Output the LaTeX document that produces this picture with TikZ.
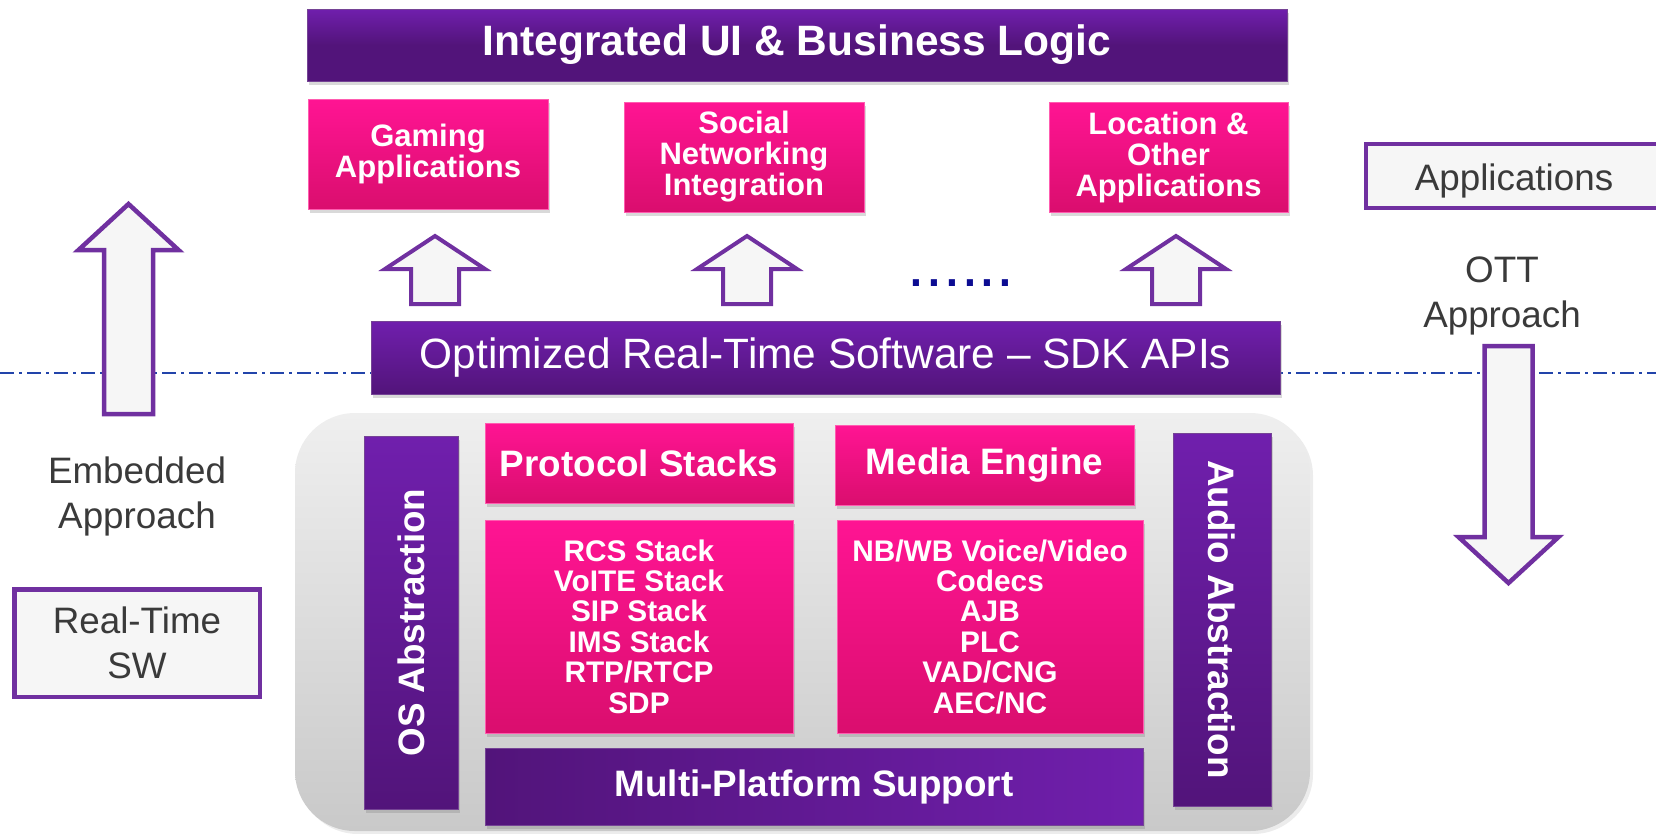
\documentclass[tikz,border=0pt]{standalone}
\usepackage{fontspec}
\setmainfont{Liberation Sans}
\usetikzlibrary{shadows}

\definecolor{barlight}{HTML}{701FAD}
\definecolor{bardark}{HTML}{52147A}
\definecolor{pinktop}{HTML}{FF1493}
\definecolor{pinkbot}{HTML}{DA0E6E}
\definecolor{pinkedge}{HTML}{FF5CB0}
\definecolor{arrowline}{HTML}{7030A0}
\definecolor{arrowfill}{HTML}{F6F6F6}
\definecolor{sidetext}{HTML}{3A3A3A}
\definecolor{sepblue}{HTML}{2244AA}
\definecolor{dotnavy}{HTML}{0C0C92}
\definecolor{panetop}{HTML}{EFEFEF}
\definecolor{panebot}{HTML}{C9C9C9}

\tikzset{
  boxshadow/.style={drop shadow={opacity=0.3, shadow xshift=2pt, shadow yshift=-4pt}},
  purplebar/.style={top color=barlight, bottom color=bardark, draw=bardark!80!white, line width=0.8pt,
    text=white, inner sep=0pt, boxshadow},
  pinkbox/.style={top color=pinktop, bottom color=pinkbot, draw=pinkedge, line width=1pt,
    text=white, align=center, inner sep=0pt, boxshadow},
  blockarrow/.style={draw=arrowline, fill=arrowfill, line width=4pt},
  sidebox/.style={draw=arrowline, fill=arrowfill, line width=4.5pt, inner sep=0pt},
  sidelabel/.style={text=sidetext, align=center, font=\fontsize{36.8}{45}\selectfont},
}

\begin{document}
\begin{tikzpicture}[x=1pt,y=-1pt]
\useasboundingbox (0,0) rectangle (1656,833);
\clip (0,0) rectangle (1656,833);

%Straight Lines: dash-dot separator
\draw [sepblue, line width=2pt, dash pattern=on 14pt off 5pt on 3pt off 5pt] (0,373) -- (1656,373);

%Shape: Rounded Rect (grey panel)
\draw [top color=panetop, bottom color=panebot, draw=none, rounded corners=60pt,
  drop shadow={opacity=0.15, shadow xshift=3pt, shadow yshift=-3pt}] (295,413) rectangle (1310,831);

% Top layer
\node (uilogic) [purplebar, middle color=bardark, minimum width=980pt, minimum height=72pt,
  font=\fontsize{42.5}{44}\selectfont\bfseries] at (797,45) {Integrated UI \& Business Logic};

\node (gaming) [pinkbox, minimum width=240pt, minimum height=110pt,
  font=\fontsize{31}{31}\selectfont\bfseries] at (428,154) {Gaming\\Applications};
\node (social) [pinkbox, minimum width=240pt, minimum height=110pt,
  font=\fontsize{31}{31}\selectfont\bfseries] at (744,157) {Social\\Networking\\Integration};
\node (location) [pinkbox, minimum width=239pt, minimum height=110pt,
  font=\fontsize{31}{31}\selectfont\bfseries] at (1168.5,157) {Location \&\\Other\\Applications};

%Shape: Up Arrows
\draw [blockarrow] (411,304) -- (411,269) -- (385,269) -- (435,236) -- (485,269) -- (459,269) -- (459,304) -- cycle;
\draw [blockarrow] (723,304) -- (723,269) -- (697,269) -- (747,236) -- (797,269) -- (771,269) -- (771,304) -- cycle;
\draw [blockarrow] (1152,304) -- (1152,269) -- (1126,269) -- (1176,236) -- (1226,269) -- (1200,269) -- (1200,304) -- cycle;

% Text Node
\node (dots) [text=dotnavy, inner sep=0pt, font=\fontsize{64}{64}\selectfont] at (961,283) {......};

% SDK layer
\node (sdkapi) [purplebar, minimum width=909pt, minimum height=73pt,
  font=\fontsize{42.4}{44}\selectfont] at (825.5,357.5) {Optimized Real-Time Software -- SDK APIs};

% Inside the grey panel
\node (osabs) [purplebar, minimum width=94pt, minimum height=373pt,
  font=\fontsize{36.8}{38}\selectfont\bfseries] at (411,622.5) {\rotatebox{90}{OS Abstraction}};
\node (audioabs) [purplebar, minimum width=98pt, minimum height=373pt,
  font=\fontsize{36.8}{38}\selectfont\bfseries] at (1222,619.5) {\rotatebox{-90}{Audio Abstraction}};

\node (protostack) [pinkbox, minimum width=308pt, minimum height=80pt,
  font=\fontsize{36.8}{38}\selectfont\bfseries] at (639,463) {Protocol Stacks};
\node (mediaeng) [pinkbox, minimum width=299pt, minimum height=80pt,
  font=\fontsize{36.8}{38}\selectfont\bfseries] at (984.5,465) {Media Engine};

\node (protolist) [pinkbox, minimum width=308pt, minimum height=213pt,
  font=\fontsize{29.8}{30.4}\selectfont\bfseries] at (639,626.5)
  {RCS Stack\\VoITE Stack\\SIP Stack\\IMS Stack\\RTP/RTCP\\SDP};
\node (codeclist) [pinkbox, minimum width=306pt, minimum height=213pt,
  font=\fontsize{29.8}{30.4}\selectfont\bfseries] at (990,626.5)
  {NB/WB Voice/Video\\Codecs\\AJB\\PLC\\VAD/CNG\\AEC/NC};

\node (multiplat) [purplebar, left color=bardark, right color=barlight, minimum width=658pt, minimum height=77pt,
  font=\fontsize{36.8}{38}\selectfont\bfseries] at (814,786.5) {Multi-Platform Support};

%Shape: Embedded side (big up arrow)
\draw [blockarrow, line width=4.5pt] (104,414) -- (104,250) -- (78.5,250) -- (128.5,204) -- (178.5,250) -- (153,250) -- (153,414) -- cycle;
\node (embedded) [sidelabel] at (137,496) {Embedded\\Approach};
\node (rtsw) [sidebox, sidelabel, minimum width=245.5pt, minimum height=107.5pt] at (137,643) {Real-Time\\SW};

%Shape: OTT side (big down arrow)
\node (apps) [sidebox, sidelabel, text height=29.4pt, text depth=0pt, minimum width=296pt, minimum height=64pt] at (1514,176) {Applications};
\node (ott) [sidelabel] at (1502,296) {OTT\\Approach};
\draw [blockarrow, line width=4.5pt] (1484.5,346) -- (1484.5,537) -- (1458.5,537) -- (1508.5,583) -- (1558.5,537) -- (1532.5,537) -- (1532.5,346) -- cycle;

\end{tikzpicture}
\end{document}
